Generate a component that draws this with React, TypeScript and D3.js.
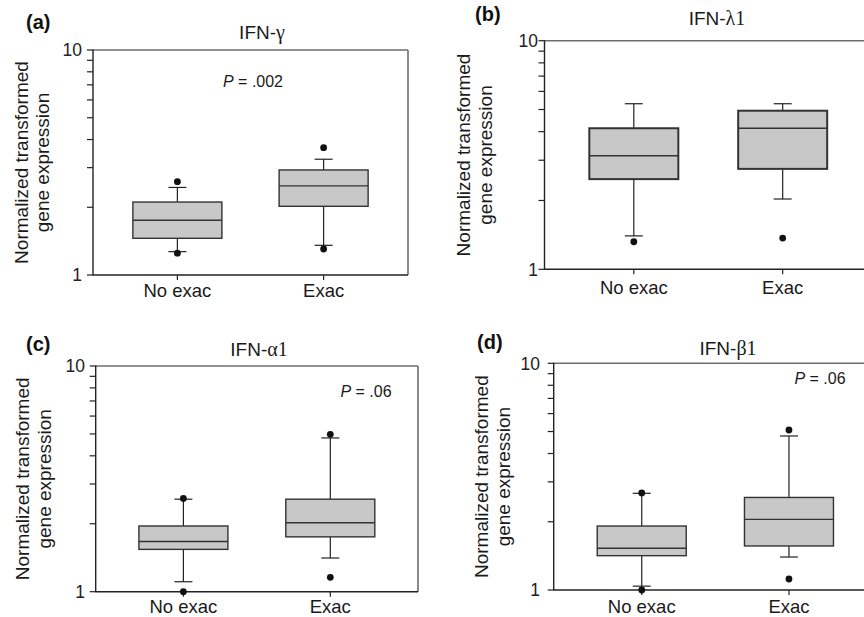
import React from "react";
import * as d3 from "d3";

// ---------- data ----------
const categories = ["No exac", "Exac"];
const panelLetters = ["(a)", "(b)", "(c)", "(d)"];
const geneSymbols = ["γ", "λ1", "α1", "β1"];
const pValueLabels = [".002", "", ".06", ".06"];
const yTickValues = [1, 10];
const yMinorTickValues = [2, 3, 4, 5, 6, 7, 8, 9];
const yAxisLines = ["Normalized transformed", "gene expression"];

// [lower whisker, Q1, median, Q3, upper whisker] per category
const ifnGammaStats = [
  [1.27, 1.456, 1.75, 2.11, 2.45],
  [1.355, 2.02, 2.49, 2.93, 3.27],
];
const ifnGammaOutliers = [[1.25, 2.6], [1.305, 3.68]];

const ifnLambdaStats = [
  [1.4, 2.48, 3.14, 4.14, 5.3],
  [2.03, 2.75, 4.14, 4.94, 5.3],
];
const ifnLambdaOutliers = [[1.32], [1.37]];

const ifnAlphaStats = [
  [1.107, 1.54, 1.67, 1.955, 2.57],
  [1.41, 1.75, 2.02, 2.57, 4.8],
];
const ifnAlphaOutliers = [[1.0, 2.59], [1.158, 4.98]];

const ifnBetaStats = [
  [1.04, 1.417, 1.527, 1.915, 2.67],
  [1.398, 1.564, 2.05, 2.56, 4.78],
];
const ifnBetaOutliers = [[1.0, 2.68], [1.118, 5.08]];

const allStats = [ifnGammaStats, ifnLambdaStats, ifnAlphaStats, ifnBetaStats];
const allOutliers = [ifnGammaOutliers, ifnLambdaOutliers, ifnAlphaOutliers, ifnBetaOutliers];

// ---------- layout ----------
const layouts = [
  { left: 93, right: 408, top: 50, bottom: 275, pad: 0.577, titleX: 262, titleY: 39, letterX: 26, letterY: 29, pX: 253, pY: 87, yl: [28, 49], xLabY: 297, tickLabX: 82, boxStroke: 1.4 },
  { left: 544.5, right: 872, top: 40.7, bottom: 269.3, pad: 0.6, titleX: 717, titleY: 25, letterX: 475, letterY: 21, pX: 0, pY: 0, yl: [470, 492], xLabY: 294, tickLabX: 538, boxStroke: 2 },
  { left: 95.7, right: 418, top: 366, bottom: 591.7, pad: 0.597, titleX: 259, titleY: 356, letterX: 26, letterY: 351, pX: 366, pY: 397, yl: [29, 51], xLabY: 613, tickLabX: 85, boxStroke: 1.4 },
  { left: 553.7, right: 877, top: 363.3, bottom: 590, pad: 0.598, titleX: 728, titleY: 355, letterX: 477, letterY: 349, pX: 820, pY: 384, yl: [488, 510], xLabY: 613, tickLabX: 540, boxStroke: 1.4 },
];

const SANS = "'Liberation Sans', Arial, Helvetica, sans-serif";
const SERIF = "'Liberation Serif', 'Times New Roman', serif";
const BOX_W = 89;
const CAP_W = 18;

function Panel({ idx }: { idx: number }) {
  const L = layouts[idx];
  const stats = allStats[idx];
  const outliers = allOutliers[idx];
  const y = d3.scaleLog().domain([1, 10]).range([L.bottom, L.top]);
  const x = d3.scalePoint<string>().domain(categories).range([L.left, L.right]).padding(L.pad);
  const midY = (L.top + L.bottom) / 2;

  return (
    <g>
      {/* frame: top/right grey */}
      <line x1={L.left} x2={L.right} y1={L.top} y2={L.top} stroke="#6e6e6e" strokeWidth={1.6} />
      <line x1={L.right} x2={L.right} y1={L.top} y2={L.bottom} stroke="#6e6e6e" strokeWidth={1.6} />
      {/* axes */}
      <line x1={L.left} x2={L.left} y1={L.top - 0.5} y2={L.bottom + 0.5} stroke="#222" strokeWidth={1.4} />
      <line x1={L.left} x2={L.right} y1={L.bottom} y2={L.bottom} stroke="#222" strokeWidth={1.4} />
      {yTickValues.concat(yMinorTickValues).map((v) => (
        <line key={"t" + v} x1={L.left - 6} x2={L.left} y1={y(v)} y2={y(v)} stroke="#222" strokeWidth={1.2} />
      ))}
      {yTickValues.map((v) => (
        <text key={"tl" + v} x={L.tickLabX} y={y(v)} dy="0.36em" textAnchor="end" fontFamily={SANS} fontSize={17.5} fill="#222">
          {String(v)}
        </text>
      ))}
      {categories.map((c) => (
        <g key={"x" + c}>
          <line x1={x(c)} x2={x(c)} y1={L.bottom} y2={L.bottom + 5} stroke="#222" strokeWidth={1.2} />
          <text x={x(c)} y={L.xLabY} textAnchor="middle" fontFamily={SANS} fontSize={18.5} fill="#1a1a1a">
            {c}
          </text>
        </g>
      ))}
      {/* y label */}
      {yAxisLines.map((t, i) => (
        <text
          key={"yl" + i}
          transform={`translate(${L.yl[i]},${midY}) rotate(-90)`}
          textAnchor="middle"
          fontFamily={SANS}
          fontSize={19}
          fill="#1a1a1a"
        >
          {t}
        </text>
      ))}
      {/* boxes */}
      {categories.map((c, ci) => {
        const [lo, q1, med, q3, hi] = stats[ci];
        const cx = x(c) as number;
        return (
          <g key={"b" + c}>
            <line x1={cx} x2={cx} y1={y(q3)} y2={y(hi)} stroke="#222" strokeWidth={1.2} />
            <line x1={cx} x2={cx} y1={y(q1)} y2={y(lo)} stroke="#222" strokeWidth={1.2} />
            <line x1={cx - CAP_W / 2} x2={cx + CAP_W / 2} y1={y(hi)} y2={y(hi)} stroke="#222" strokeWidth={1.2} />
            <line x1={cx - CAP_W / 2} x2={cx + CAP_W / 2} y1={y(lo)} y2={y(lo)} stroke="#222" strokeWidth={1.2} />
            <rect x={cx - BOX_W / 2} y={y(q3)} width={BOX_W} height={y(q1) - y(q3)} fill="#c8c8c8" stroke="#333" strokeWidth={L.boxStroke} />
            <line x1={cx - BOX_W / 2} x2={cx + BOX_W / 2} y1={y(med)} y2={y(med)} stroke="#333" strokeWidth={1.4} />
            {outliers[ci].map((o, oi) => (
              <circle key={"o" + oi} cx={cx} cy={y(o)} r={3.4} fill="#111" />
            ))}
          </g>
        );
      })}
      {/* title */}
      <text x={L.titleX} y={L.titleY} textAnchor="middle" fontFamily={SANS} fontSize={19} fill="#1a1a1a">
        IFN-<tspan fontFamily={SERIF} fontSize={20}>{geneSymbols[idx]}</tspan>
      </text>
      <text x={L.letterX} y={L.letterY} fontFamily={SANS} fontWeight="bold" fontSize={20} fill="#111">
        {panelLetters[idx]}
      </text>
      {pValueLabels[idx] && (
        <text x={L.pX} y={L.pY} textAnchor="middle" fontFamily={SANS} fontSize={16} fill="#1a1a1a">
          <tspan fontStyle="italic">P</tspan> = {pValueLabels[idx]}
        </text>
      )}
    </g>
  );
}

export default function App() {
  return (
    <svg width={864} height={617} style={{ position: "absolute", left: 0, top: 0, background: "#fff" }}>
      <rect x={0} y={0} width={864} height={617} fill="#fff" />
      {layouts.map((_, i) => (
        <Panel key={i} idx={i} />
      ))}
    </svg>
  );
}
